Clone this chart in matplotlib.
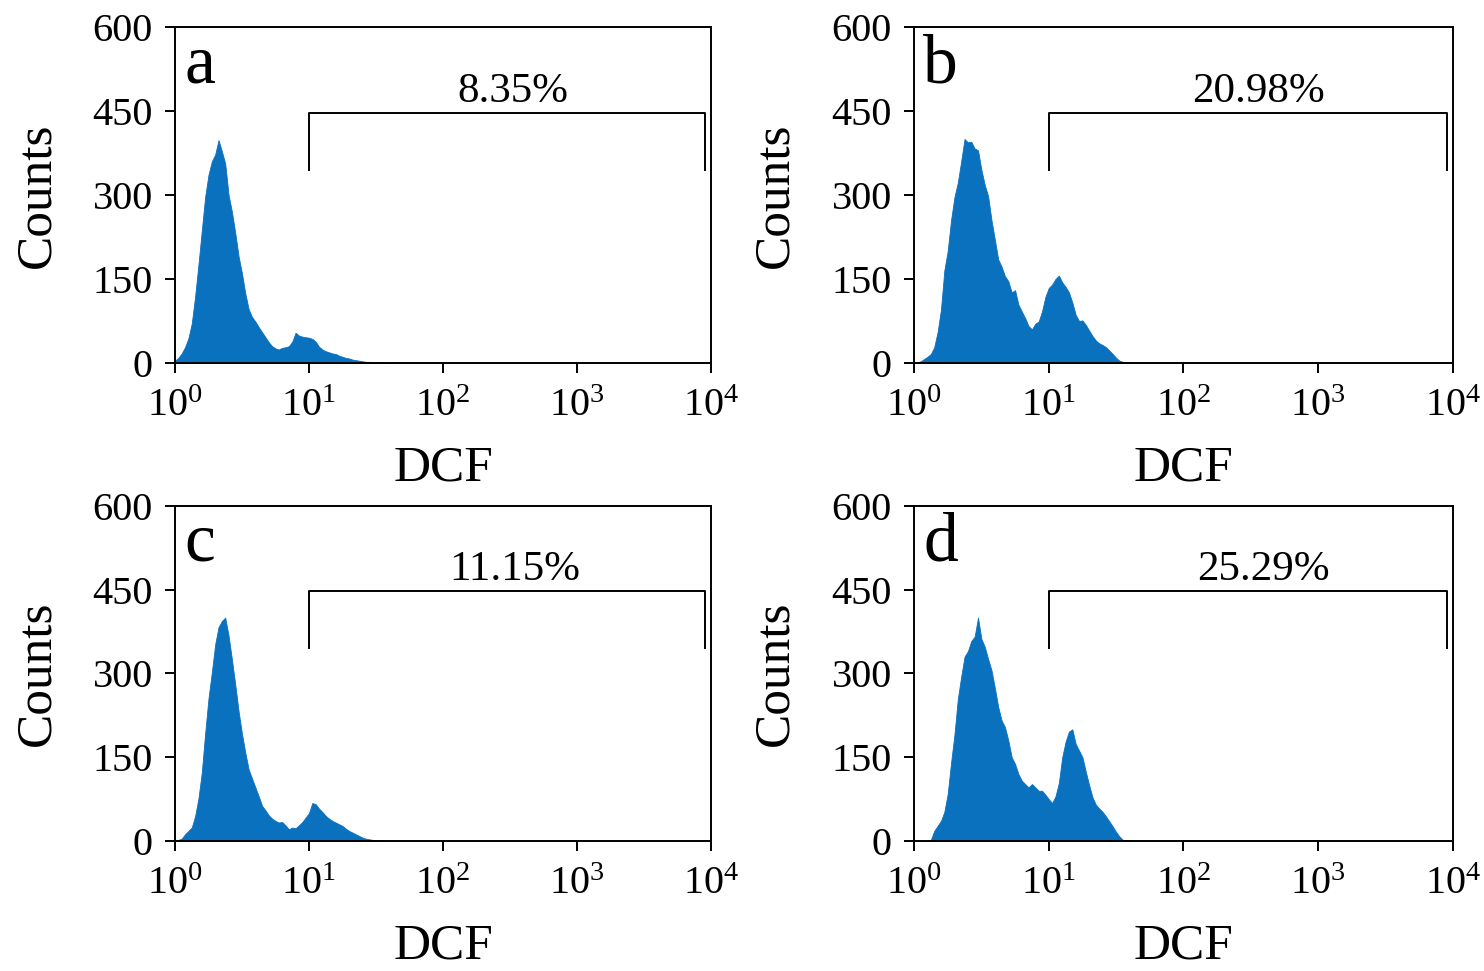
import numpy as np
import matplotlib
matplotlib.use("Agg")
import matplotlib.pyplot as plt

plt.rcParams['font.family'] = ['Liberation Serif', 'DejaVu Serif']
plt.rcParams['mathtext.fontset'] = 'custom'
plt.rcParams['mathtext.rm'] = 'Liberation Serif'
plt.rcParams['mathtext.it'] = 'Liberation Serif:italic'

# histogram channels: 0.025 decade each, starting at 10^0
CHANNEL_STEP = 0.025

panel_letters = ['a', 'b', 'c', 'd']
gate_percent = ['8.35%', '20.98%', '11.15%', '25.29%']

counts_a = [4, 9, 17, 28, 44, 70, 118, 175, 236, 296,
            336, 360, 372, 398, 378, 356, 300, 270, 232, 190,
            160, 124, 96, 82, 74, 64, 55, 46, 37, 30,
            26, 24, 27, 28, 30, 38, 54, 49, 47, 46,
            45, 43, 38, 29, 24, 21, 19, 17, 16, 13,
            11, 9, 8, 6, 5, 4, 3, 2, 2, 1,
            1, 1, 0, 0, 0]
counts_b = [0, 1, 3, 7, 11, 16, 28, 55, 95, 165,
            200, 255, 296, 322, 360, 400, 394, 395, 383, 380,
            345, 318, 298, 255, 220, 185, 172, 155, 146, 126,
            130, 104, 92, 80, 66, 60, 70, 74, 92, 118,
            134, 140, 150, 156, 144, 136, 126, 108, 86, 75,
            76, 68, 58, 48, 40, 35, 32, 28, 22, 16,
            9, 4, 2, 1, 1]
counts_c = [1, 2, 4, 12, 18, 24, 44, 76, 122, 192,
            255, 302, 352, 383, 394, 400, 368, 325, 280, 232,
            192, 158, 128, 112, 96, 80, 63, 55, 46, 40,
            36, 33, 34, 28, 21, 24, 23, 28, 34, 42,
            50, 68, 66, 58, 52, 45, 40, 36, 33, 30,
            27, 22, 18, 15, 12, 9, 6, 4, 3, 2,
            1, 1, 1, 0, 1]
counts_d = [0, 0, 0, 0, 0, 2, 18, 27, 36, 52,
            84, 140, 190, 254, 294, 330, 340, 358, 366, 400,
            362, 348, 326, 306, 274, 240, 216, 204, 180, 150,
            138, 120, 108, 102, 96, 102, 96, 90, 90, 83,
            75, 68, 80, 104, 150, 178, 196, 200, 174, 162,
            150, 124, 100, 78, 65, 58, 52, 44, 35, 26,
            16, 8, 2, 1, 1]
panel_counts = [counts_a, counts_b, counts_c, counts_d]

y_ticks = [0, 150, 300, 450, 600]
x_ticks = [1, 10, 100, 1000, 10000]
x_tick_labels = [r'$\mathregular{10^{0}}$', r'$\mathregular{10^{1}}$',
                 r'$\mathregular{10^{2}}$', r'$\mathregular{10^{3}}$',
                 r'$\mathregular{10^{4}}$']

# gate marker (DCF range and bracket heights in counts)
gate_low, gate_high = 10, 9100
gate_top, gate_foot = 447, 345

fill_color = '#0A71BF'

fig = plt.figure(figsize=(14.84, 9.71), dpi=100)
boxes = [(0.1179, 0.6262, 0.3612, 0.346),
         (0.6159, 0.6262, 0.3632, 0.346),
         (0.1179, 0.1339, 0.3612, 0.345),
         (0.6159, 0.1339, 0.3632, 0.345)]
pct_x = [0.63, 0.64, 0.634, 0.649]

for i, box in enumerate(boxes):
    ax = fig.add_axes(box)
    counts = np.array(panel_counts[i])
    dcf = 10 ** (np.arange(len(counts)) * CHANNEL_STEP)
    ax.fill_between(dcf, counts, color=fill_color, lw=0.6, edgecolor=fill_color)

    ax.set_xscale('log')
    ax.set_xlim(1, 10000)
    ax.set_ylim(0, 600)
    ax.set_xticks(x_ticks)
    ax.set_xticklabels(x_tick_labels)
    ax.minorticks_off()
    ax.set_yticks(y_ticks)

    for s in ax.spines.values():
        s.set_linewidth(1.4)
    ax.tick_params(direction='out', length=7, width=1.4, labelsize=29)
    ax.tick_params(axis='x', pad=11)
    ax.tick_params(axis='y', pad=9)

    ax.plot([gate_low, gate_low, gate_high, gate_high],
            [gate_foot, gate_top, gate_top, gate_foot], color='black', lw=1.4)
    ax.text(pct_x[i], 0.778, gate_percent[i], transform=ax.transAxes,
            ha='center', va='baseline', fontsize=31)
    ax.text(0.017, 0.836, panel_letters[i], transform=ax.transAxes,
            ha='left', va='baseline', fontsize=50)

    ax.set_ylabel('Counts', fontsize=37)
    ax.set_xlabel('DCF', fontsize=37)
    ax.yaxis.set_label_coords(-0.214, 0.5)
    ax.xaxis.set_label_coords(0.5, -0.245)

fig.savefig('out.png', dpi=100)
